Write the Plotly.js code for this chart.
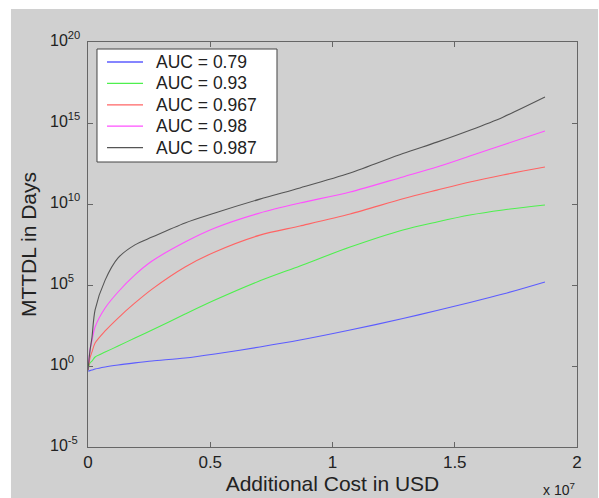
<!DOCTYPE html>
<html>
<head>
<meta charset="utf-8">
<script src="https://cdn.plot.ly/plotly-3.0.1.min.js"></script>
<style>html,body{margin:0;padding:0;background:#fff}#chart{width:599px;height:498px}</style>
</head>
<body>
<div id="chart"></div>
<script>
// Additional cost in USD (shared x samples)
var cost = [0, 8e4, 1.6e5, 2.9e5, 7.0e5, 1.23e6, 1.92e6, 2.62e6, 3.97e6, 5.19e6, 7.03e6, 8.67e6, 1.072e7, 1.288e7, 1.427e7, 1.562e7, 1.697e7, 1.869e7];
// MTTDL in days for each AUC
var auc079  = [0.49, 0.52, 0.56, 0.65, 0.87, 1.15, 1.55, 2.04, 3.1, 5.5, 15, 40, 166, 850, 2700, 8300, 27500, 155000];
var auc093  = [0.56, 1.55, 2.0, 3.6, 7.2, 17, 54, 166, 1600, 11700, 1.8e5, 1.5e6, 2.2e7, 2.5e8, 7.8e8, 2.1e9, 4.3e9, 8.7e9];
var auc0967 = [0.56, 3.1, 7.2, 26, 145, 910, 7800, 56000, 1.3e6, 1.1e7, 1.2e8, 4.4e8, 2.4e9, 2.1e10, 7.2e10, 2.3e11, 6.2e11, 1.9e12];
var auc098  = [0.56, 9.8, 35, 257, 3800, 37000, 4.2e5, 3.0e6, 4.5e7, 3.3e8, 2.8e9, 1.15e10, 5.5e10, 4.7e11, 1.9e12, 9.1e12, 4.4e13, 3.2e14];
var auc0987 = [0.56, 8.5, 54, 2900, 2.0e5, 4.7e6, 3.0e7, 9.1e7, 6.8e8, 2.8e9, 2.0e10, 9.8e10, 8.1e11, 1.3e13, 6.6e13, 3.6e14, 2.3e15, 4.0e16];

var seriesNames = ['AUC = 0.79', 'AUC = 0.93', 'AUC = 0.967', 'AUC = 0.98', 'AUC = 0.987'];
var seriesData = [auc079, auc093, auc0967, auc098, auc0987];
var seriesColors = ['#5c5cff', '#4ef04e', '#ff6464', '#ff50ff', '#555555'];

var xTickVals = [0, 5e6, 1e7, 1.5e7, 2e7];
var xTickText = ['0', '0.5', '1', '1.5', '2'];
var yTickExp = [-5, 0, 5, 10, 15, 20];
var yTickText = ['10<sup>-5</sup>', '10<sup>0</sup>', '10<sup>5</sup>', '10<sup>10</sup>', '10<sup>15</sup>', '10<sup>20</sup>'];

var traces = seriesData.map(function (d, i) {
  return {x: cost, y: d, type: 'scatter', mode: 'lines', name: seriesNames[i],
          line: {color: seriesColors[i], width: 1.1, shape: 'spline', smoothing: 0.8}};
});

var fam = 'Liberation Sans, Arial, sans-serif';
var txt = '#222';

var shapes = [{
  type: 'rect', xref: 'paper', yref: 'paper', layer: 'below',
  x0: -0.1575, x1: 1.043, y0: -0.13, y1: 1.0815,
  fillcolor: '#d0d0d0', line: {width: 0}
}];
var annotations = [];

// y tick labels, base "10" left-aligned as in the reference
yTickExp.forEach(function (e, i) {
  annotations.push({xref: 'paper', yref: 'y', x: -0.0818, y: e, xanchor: 'left', yanchor: 'middle',
    yshift: 3, text: yTickText[i], showarrow: false, font: {family: fam, size: 16, color: txt}});
});

// legend box drawn in the plot's paper space
shapes.push({type: 'rect', xref: 'paper', yref: 'paper', x0: 0.0184, x1: 0.3865, y0: 0.7037, y1: 0.9827,
  fillcolor: '#ffffff', line: {color: '#444', width: 1}, layer: 'above'});
seriesNames.forEach(function (n, i) {
  var yy = (447 - (62 + 21.4 * i)) / 405;
  shapes.push({type: 'line', xref: 'paper', yref: 'paper', x0: 0.0389, x1: 0.1125, y0: yy, y1: yy,
    line: {color: seriesColors[i], width: 1.3}, layer: 'above'});
  annotations.push({xref: 'paper', yref: 'paper', x: 0.135, y: yy, xanchor: 'left', yanchor: 'middle',
    text: n, showarrow: false, font: {family: fam, size: 17.5, color: txt}});
});

annotations.push({
  xref: 'paper', yref: 'paper', x: 1.0, y: -0.104, xanchor: 'right', yanchor: 'middle',
  text: 'x 10<sup>7</sup>', showarrow: false, font: {family: fam, size: 14, color: txt}
});

var layout = {
  width: 599, height: 498,
  margin: {l: 88, r: 22, t: 42, b: 51},
  paper_bgcolor: '#ffffff',
  plot_bgcolor: '#ffffff',
  showlegend: false,
  font: {family: fam, size: 15, color: txt},
  xaxis: {
    range: [0, 2e7], tickvals: xTickVals, ticktext: xTickText,
    ticks: 'inside', ticklen: 5, tickcolor: '#666', showline: true, linecolor: '#666', linewidth: 1,
    mirror: 'ticks', showgrid: false, zeroline: false, ticklabelstandoff: 0,
    tickfont: {family: fam, size: 17, color: txt},
    title: {text: 'Additional Cost in USD', font: {family: fam, size: 21, color: txt}, standoff: 0}
  },
  yaxis: {
    type: 'log', range: [-5, 20], tickvals: yTickExp.map(function (e) { return Math.pow(10, e); }),
    showticklabels: false,
    ticks: 'inside', ticklen: 5, tickcolor: '#666', showline: true, linecolor: '#666', linewidth: 1,
    mirror: 'ticks', showgrid: false, zeroline: false,
    title: {text: 'MTTDL in Days', font: {family: fam, size: 21, color: txt}, standoff: 44}
  },
  shapes: shapes,
  annotations: annotations
};

Plotly.newPlot('chart', traces, layout, {displayModeBar: false, staticPlot: true});
</script>
</body>
</html>
